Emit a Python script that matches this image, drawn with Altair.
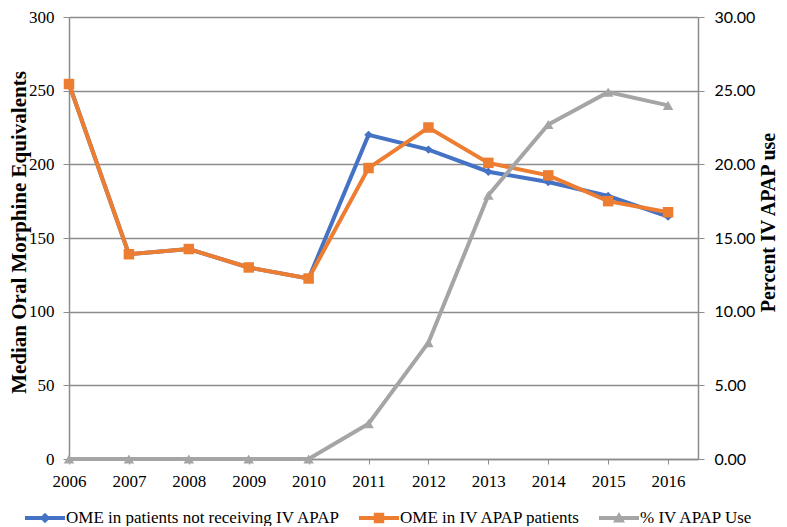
import altair as alt
import pandas as pd

years = [2006, 2007, 2008, 2009, 2010, 2011, 2012, 2013, 2014, 2015, 2016]
ome_not_iv = [254.5, 139, 142.5, 130, 122.5, 220, 210, 195, 188, 178.5, 164.5]
ome_iv = [254.5, 139, 142.5, 130, 122.5, 197.5, 225, 201, 192.5, 175, 167.5]
pct_iv = [0, 0, 0, 0, 0, 2.4, 7.9, 17.9, 22.7, 24.9, 24.0]

series_names = ["OME in patients not receiving IV APAP", "OME in IV APAP patients", "% IV APAP Use"]
series_colors = ["#4472C4", "#ED7D31", "#A5A5A5"]

left_ticks = [0, 50, 100, 150, 200, 250, 300]
right_ticks = [0, 5, 10, 15, 20, 25, 30]

df = pd.DataFrame({"year": years, "not_iv": ome_not_iv, "iv": ome_iv, "pct": pct_iv})

SERIF = "Liberation Serif"
GRID = "#8c8c8c"

legend_paths = [
    "M-1,-0.1H1V0.1H-1Z M0,-0.26L0.26,0L0,0.26L-0.26,0Z",
    "M-1,-0.1H1V0.1H-1Z M-0.26,-0.26H0.26V0.26H-0.26Z",
    "M-1,-0.1H1V0.1H-1Z M0,-0.3L0.3,0.22L-0.3,0.22Z",
]

x_enc = alt.X(
    "year:Q",
    scale=alt.Scale(domain=[2006, 2016.5], nice=False, zero=False),
    axis=alt.Axis(
        values=years, format="d", grid=False, title=None, labelFlush=False,
        tickSize=5, tickColor=GRID, domainColor=GRID, domainWidth=1.5,
        labelFont=SERIF, labelFontSize=17, labelColor="black",
        labelPadding=9, labelBaseline="top",
    ),
)

left_axis = alt.Axis(
    values=left_ticks, grid=True, gridColor=GRID, gridWidth=1.3, labelFlush=False,
    tickSize=6, tickColor=GRID, domainColor=GRID, domainWidth=1.5,
    labelFont=SERIF, labelFontSize=17, labelColor="black", labelPadding=9,
    title="Median Oral Morphine Equivalents", titleFont=SERIF, titleFontSize=21,
    titleFontWeight="bold", titleColor="black", titleAngle=270,
    titleX=-50, titleY=215, titleBaseline="middle", titleAlign="center",
)
left_scale = alt.Scale(domain=[0, 300], nice=False)

right_axis = alt.Axis(
    values=right_ticks, grid=False, format=".2f", labelFlush=False,
    tickSize=6, tickColor=GRID, domainColor=GRID, domainWidth=1.5,
    labelFont="Lato", labelFontSize=16, labelColor="black", labelPadding=10,
    title="Percent IV APAP use", titleFont=SERIF, titleFontSize=20,
    titleFontWeight="bold", titleColor="black", titleAngle=270,
    titleX=70, titleY=205, titleBaseline="middle", titleAlign="center",
)
right_scale = alt.Scale(domain=[0, 30], nice=False)

base = alt.Chart(df)

blue_line = base.mark_line(color=series_colors[0], strokeWidth=4).encode(
    x=x_enc, y=alt.Y("not_iv:Q", scale=left_scale, axis=left_axis))
blue_pts = base.mark_point(shape="diamond", filled=True, opacity=1, size=70,
                           color=series_colors[0]).encode(
    x=x_enc, y=alt.Y("not_iv:Q", scale=left_scale, axis=left_axis))
orange_line = base.mark_line(color=series_colors[1], strokeWidth=4).encode(
    x=x_enc, y=alt.Y("iv:Q", scale=left_scale, axis=left_axis))
orange_pts = base.mark_point(shape="square", filled=True, opacity=1, size=110,
                             color=series_colors[1]).encode(
    x=x_enc, y=alt.Y("iv:Q", scale=left_scale, axis=left_axis))

legend_df = pd.DataFrame({"series": series_names, "year": [2006] * 3, "v": [0] * 3})
leg = alt.Legend(
    title=None, orient="none", direction="horizontal", legendX=-44, legendY=481,
    labelFont=SERIF, labelFontSize=17, labelColor="black", labelOffset=1, labelLimit=400,
    columnPadding=18, symbolStrokeWidth=0, symbolOpacity=1, symbolSize=1600, padding=0,
)
legend_layer = alt.Chart(legend_df).transform_filter("datum.year < 0").mark_point(
    filled=True, size=1600, strokeWidth=0).encode(
    x=x_enc,
    y=alt.Y("v:Q", scale=left_scale, axis=left_axis),
    color=alt.Color("series:N", scale=alt.Scale(domain=series_names, range=series_colors), legend=leg),
    shape=alt.Shape("series:N", scale=alt.Scale(domain=series_names, range=legend_paths), legend=leg),
)

left = alt.layer(blue_line, blue_pts, orange_line, orange_pts, legend_layer)

gray_line = base.mark_line(color=series_colors[2], strokeWidth=4).encode(
    x=x_enc, y=alt.Y("pct:Q", scale=right_scale, axis=right_axis))
gray_pts = base.mark_point(shape="triangle-up", filled=True, opacity=1, size=110,
                           color=series_colors[2]).encode(
    x=x_enc, y=alt.Y("pct:Q", scale=right_scale, axis=right_axis))
right = alt.layer(gray_line, gray_pts)

chart = alt.layer(left, right).resolve_scale(y="independent").properties(
    width=629, height=442,
    autosize=alt.AutoSizeParams(type="none"),
    padding={"left": 61, "top": 9, "right": 81, "bottom": 67},
).configure_view(strokeWidth=0).configure(background="white")

chart.save("out.html", embed_options={"renderer": "svg", "actions": False})
